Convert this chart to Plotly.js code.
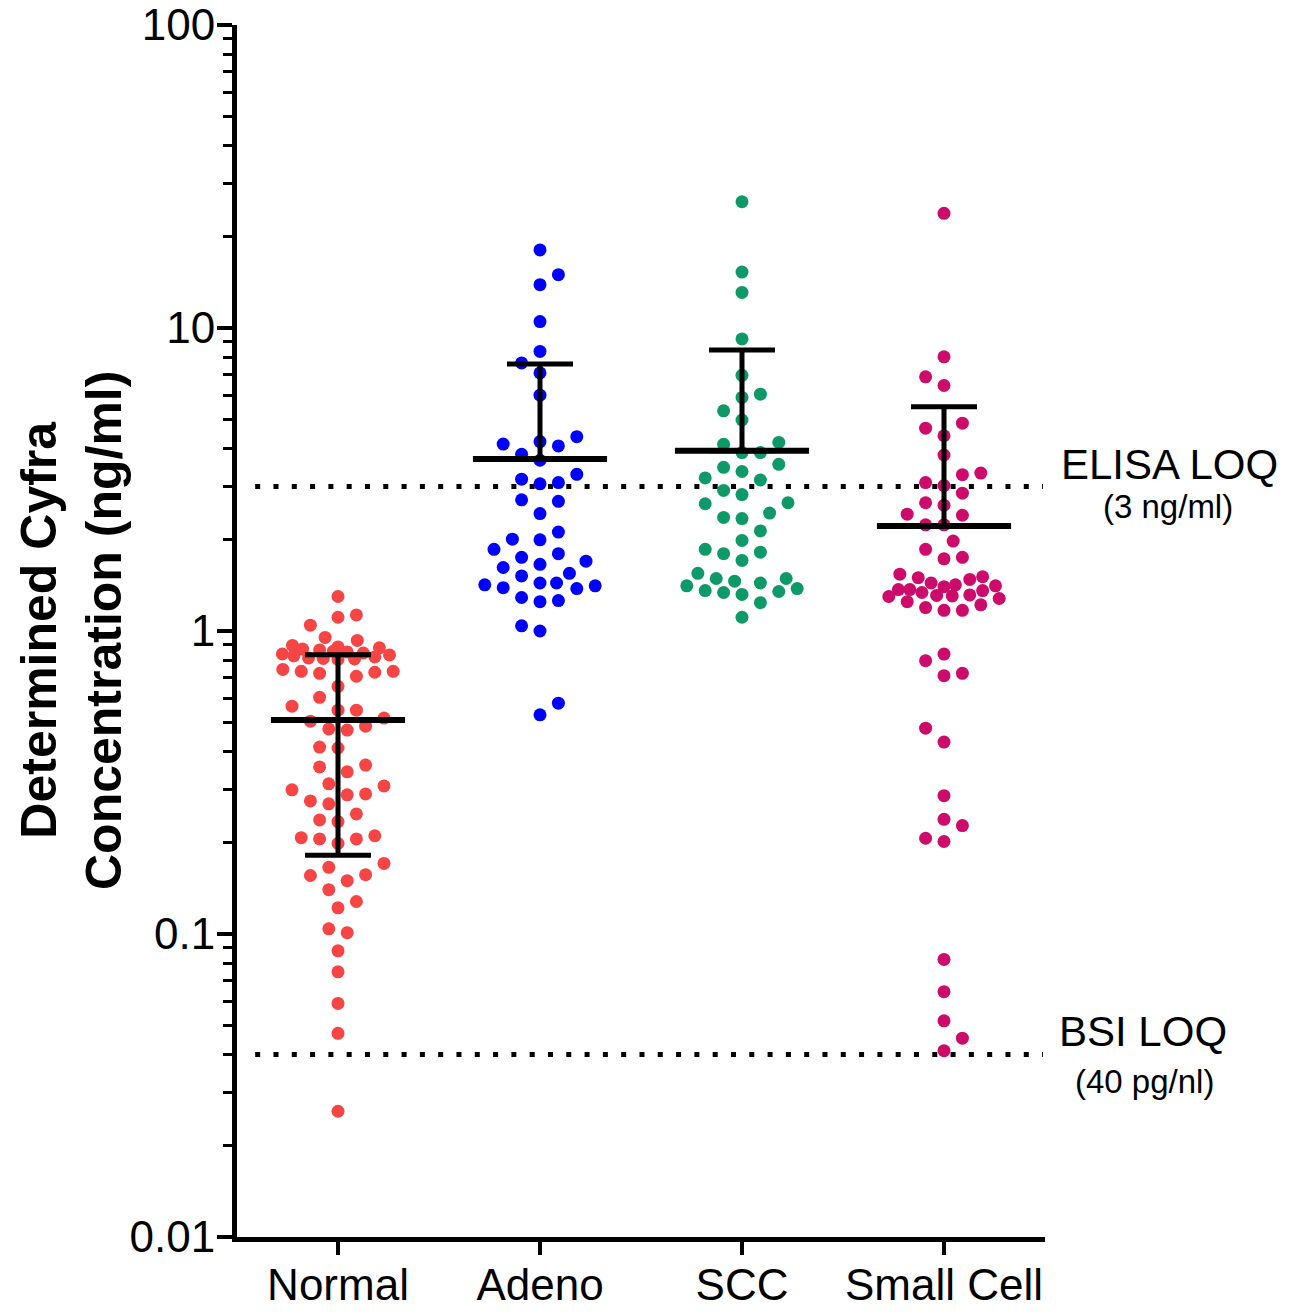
<!DOCTYPE html>
<html><head><meta charset="utf-8">
<script src="https://cdn.plot.ly/plotly-3.0.1.min.js"></script>
<style>html,body{margin:0;padding:0;background:#fff}</style>
</head><body>
<div id="chart" style="width:1289px;height:1314px"></div>
<script>
// ---------------- data ----------------
const categories = ['Normal', 'Adeno', 'SCC', 'Small Cell'];
const normalValues = [1.30,1.13,1.11,1.045,0.952,0.931,0.896,
  0.886,0.880,0.872,0.866,0.858,0.853,0.846,0.840,0.834,0.828,0.821,0.815,0.812,0.809,0.806,
  0.747,0.736,0.725,0.709,0.731,0.736,
  0.657,0.604,0.565,0.548,0.548,0.516,0.504,0.485,0.475,0.471,
  0.414,0.411,0.361,0.356,0.343,0.313,0.308,0.299,0.290,0.288,
  0.275,0.269,0.249,0.238,0.235,0.211,0.208,0.206,0.206,0.199,
  0.171,0.166,0.157,0.156,0.150,0.140,0.128,0.122,0.104,0.101,0.088,0.075,0.059,0.047,0.026];
const adenoValues = [18.1,15.0,13.9,10.5,8.37,7.67,7.11,6.00,4.38,4.22,4.08,4.14,3.83,3.66,
  3.29,3.09,3.06,3.17,2.71,2.68,2.44,2.12,2.01,2.00,1.86,1.75,1.80,1.62,1.66,1.70,
  1.52,1.55,1.44,1.42,1.39,1.44,1.41,1.38,1.29,1.25,1.26,1.04,1.00,0.578,0.529];
const sccValues = [26.1,15.3,13.1,9.20,6.98,6.05,5.90,5.33,4.97,4.19,4.13,3.88,3.88,3.55,
  3.36,3.47,3.15,3.20,2.91,2.82,2.65,2.63,2.45,2.37,2.35,2.14,1.99,1.82,1.80,1.71,1.86,1.55,
  1.49,1.46,1.41,1.36,1.34,1.32,1.35,1.38,1.44,1.49,1.24,1.11];
const smallCellValues = [23.9,8.03,6.90,6.46,4.67,4.85,4.41,3.81,3.32,3.28,3.09,3.02,2.85,
  2.60,2.65,2.43,2.41,2.24,2.24,1.98,1.86,1.73,1.75,1.51,
  1.48,1.42,1.40,1.41,1.44,1.50,1.54,1.37,1.36,1.37,
  1.34,1.315,1.30,1.25,1.195,1.17,1.17,1.22,1.28,1.305,1.31,
  0.798,0.839,0.712,0.725,0.478,0.430,0.286,0.239,0.228,0.202,0.207,
  0.0824,0.0645,0.0517,0.0453,0.0412];
const groupValues = [normalValues, adenoValues, sccValues, smallCellValues];
const groupColors = ['#F74444', '#0000FF', '#0E9A68', '#CC0B6B'];
const loqValues = [3, 0.04];
const loqLabels = ['ELISA LOQ', 'BSI LOQ'];
const loqSubLabels = ['(3 ng/ml)', '(40 pg/nl)'];
const yTickVals = [0.01, 0.1, 1, 10, 100];
const yTickText = ['0.01', '0.1', '1', '10', '100'];
const yTitle = 'Determined Cyfra<br>Concentration (ng/ml)';

// ---------------- geometry ----------------
const W = 1289, H = 1314;
const M = {l: 237, r: 244, t: 25, b: 77};
const plotW = W - M.l - M.r, plotH = H - M.t - M.b;
const xRange = [-0.5, 3.5], yRange = [-2, 2];
const pxPerUnitX = plotW / (xRange[1] - xRange[0]);
const pxPerDecade = plotH / (yRange[1] - yRange[0]);
const FONT = '"Liberation Sans", Arial, Helvetica, sans-serif';

// Prism-like swarm: ascending order, nearest free slot to the centre
function swarmOffsets(vals) {
  const D = 18.4, maxW = 57;
  const order = vals.map((v, i) => i).sort((a, b) => vals[a] - vals[b]);
  const placed = [];
  const out = new Array(vals.length).fill(0);
  let toggle = 1;
  for (const i of order) {
    const y = -Math.log10(vals[i]) * pxPerDecade;
    let best = null;
    for (const sc of [1, 0.9, 0.8, 0.7, 0.62, 0.55, 0.5]) {
      const d = D * sc, st = d / 2;
      const kmax = Math.floor(maxW / st + 1e-9);
      for (let k = 0; k <= kmax && best === null; k++) {
        const cands = k === 0 ? [0] : [toggle * k * st, -toggle * k * st];
        for (const x of cands) {
          let ok = true;
          for (const p of placed) {
            const dx = p.x - x, dy = p.y - y;
            if (dx * dx + dy * dy < d * d - 1e-6) { ok = false; break; }
          }
          if (ok) { best = x; break; }
        }
      }
      if (best !== null) break;
    }
    if (best === null) best = 0;
    if (best !== 0) toggle = -toggle;
    placed.push({x: best, y: y});
    out[i] = best / pxPerUnitX;
  }
  return out;
}

function meanSd(vals) {
  const n = vals.length;
  const m = vals.reduce((a, b) => a + b, 0) / n;
  const v = vals.reduce((a, b) => a + (b - m) * (b - m), 0) / (n - 1);
  return [m, Math.sqrt(v)];
}

const traces = [];
// LOQ dotted lines
loqValues.forEach((v) => {
  traces.push({
    type: 'scatter', mode: 'lines', x: [-0.41, 3.49], y: [v, v],
    line: {color: '#000', width: 5, dash: '5px,13.3px'},
    hoverinfo: 'skip', showlegend: false
  });
});
// points
groupValues.forEach((vals, gi) => {
  const offs = swarmOffsets(vals);
  traces.push({
    type: 'scatter', mode: 'markers', name: categories[gi],
    x: vals.map((v, i) => gi + offs[i]), y: vals,
    marker: {color: groupColors[gi], size: 13, line: {width: 0}},
    cliponaxis: false, showlegend: false
  });
});
// mean +/- SD
groupValues.forEach((vals, gi) => {
  const [m, sd] = meanSd(vals);
  traces.push({
    type: 'scatter', mode: 'markers', x: [gi], y: [m],
    marker: {size: 1, opacity: 0},
    error_y: {type: 'data', symmetric: false, array: [sd], arrayminus: [m - sd > 0 ? sd : 0],
      color: '#000', thickness: 5, width: 33},
    error_x: {type: 'constant', value: 0.332, color: '#000', thickness: 6, width: 0},
    cliponaxis: false, showlegend: false, hoverinfo: 'skip'
  });
});

const minorVals = [];
for (let e = -2; e < 2; e++) for (let k = 2; k <= 9; k++) minorVals.push(k * Math.pow(10, e));

const annotations = [
  {xref: 'paper', yref: 'paper', x: (71 - M.l) / plotW, y: 0.5, text: yTitle, textangle: -90,
   showarrow: false, xanchor: 'center', yanchor: 'middle',
   font: {family: FONT, size: 50, color: '#000', weight: 'bold'}}
];
const labelX = [[1169, 1168], [1143, 1144]];
const shifts = [[-4, 0], [-2, -6]];
loqValues.forEach((v, i) => {
  annotations.push({xref: 'paper', yref: 'y', x: (labelX[i][0] - M.l) / plotW, y: Math.log10(v),
    text: loqLabels[i], showarrow: false, xanchor: 'center', yanchor: 'bottom', yshift: shifts[i][0],
    font: {family: FONT, size: 42, color: '#000'}});
  annotations.push({xref: 'paper', yref: 'y', x: (labelX[i][1] - M.l) / plotW, y: Math.log10(v),
    text: loqSubLabels[i], showarrow: false, xanchor: 'center', yanchor: 'top', yshift: shifts[i][1],
    font: {family: FONT, size: 33, color: '#000'}});
});

const layout = {
  width: W, height: H, margin: M,
  paper_bgcolor: '#fff', plot_bgcolor: '#fff',
  font: {family: FONT, color: '#000'},
  showlegend: false,
  xaxis: {
    range: xRange, tickmode: 'array', tickvals: categories.map((c, i) => i), ticktext: categories,
    showgrid: false, zeroline: false, showline: true, linecolor: '#000', linewidth: 5,
    ticks: 'outside', ticklen: 13, tickwidth: 4, tickcolor: '#000',
    ticklabelstandoff: -8, ticklabeloverflow: 'allow',
    tickfont: {family: FONT, size: 44, color: '#000'}, fixedrange: true
  },
  yaxis: {
    type: 'log', range: yRange, tickmode: 'array', tickvals: yTickVals, ticktext: yTickText,
    showgrid: false, zeroline: false, showline: true, linecolor: '#000', linewidth: 5,
    ticks: 'outside', ticklen: 15, tickwidth: 4, tickcolor: '#000',
    ticklabelstandoff: -7, ticklabeloverflow: 'allow',
    tickfont: {family: FONT, size: 44, color: '#000'},
    minor: {tickmode: 'array', tickvals: minorVals, ticks: 'outside', ticklen: 9, tickwidth: 3,
            tickcolor: '#000', showgrid: false},
    fixedrange: true
  },
  annotations: annotations
};

Plotly.newPlot('chart', traces, layout, {displayModeBar: false, staticPlot: true});
</script>
</body></html>
